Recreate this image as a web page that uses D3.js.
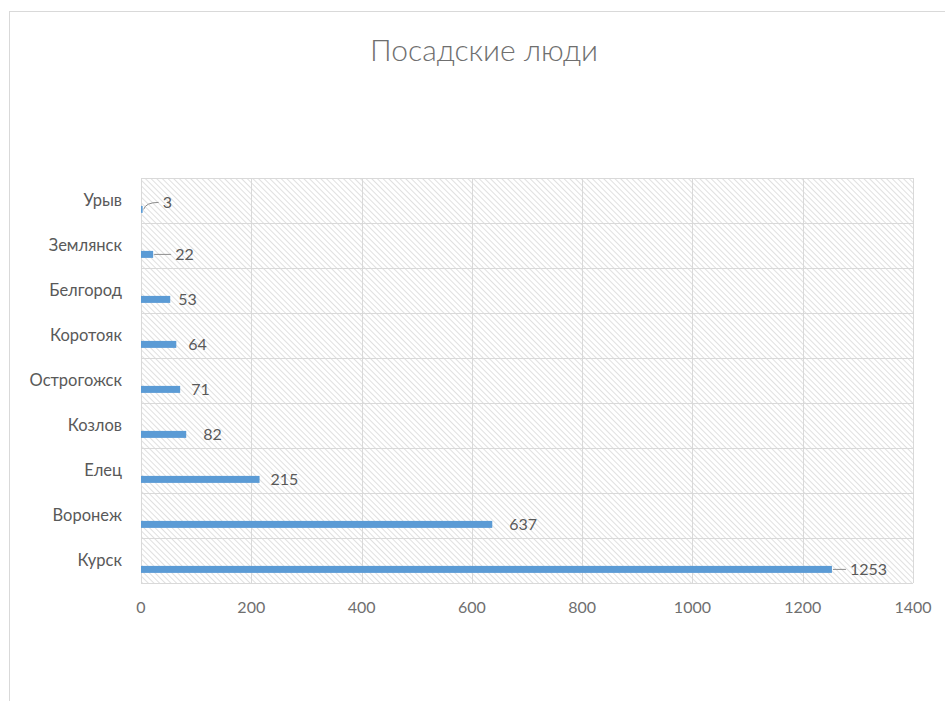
<!DOCTYPE html>
<html>
<head>
<meta charset="utf-8">
<script src="https://cdn.jsdelivr.net/npm/d3@7"></script>
<style>
  body { margin: 0; background: #fff; }
  svg { display: block; font-family: Lato, "Open Sans", sans-serif; }
</style>
</head>
<body>
<svg id="chart" width="945" height="701"></svg>
<script>
// Data
const towns = ['Урыв', 'Землянск', 'Белгород', 'Коротояк', 'Острогожск', 'Козлов', 'Елец', 'Воронеж', 'Курск'];
const people = [3, 22, 53, 64, 71, 82, 215, 637, 1253];
const xTicks = [0, 200, 400, 600, 800, 1000, 1200, 1400];
// label nudges (px right of the bar end, px up), the way they were dragged in the original
const labelDx = [20, 22, 8, 12, 11, 17, 11, 17, 18];
const labelDy = [7, 0, 0, 0, 0, 0, 0, 0, 0];
const title = 'Посадские люди';

const svg = d3.select('#chart');
const margin = { left: 141, right: 32, top: 178, bottom: 118 };
const width = 945, height = 701;
const textColor = '#595959';

// outer chart frame (cropped at right/bottom)
svg.append('rect')
    .attr('x', 9.5).attr('y', 11.5)
    .attr('width', 1000).attr('height', 1000)
    .attr('fill', 'none')
    .attr('stroke', '#d9d9d9');

// hatch pattern for plot background
const defs = svg.append('defs');
const pat = defs.append('pattern')
    .attr('id', 'hatch')
    .attr('patternUnits', 'userSpaceOnUse')
    .attr('width', 4).attr('height', 4)
    .attr('patternTransform', 'rotate(-45)');
pat.append('line')
    .attr('x1', 0).attr('y1', 0).attr('x2', 0).attr('y2', 4)
    .attr('stroke', '#cfcfcf').attr('stroke-width', 1.3);

const x = d3.scaleLinear()
    .domain([0, 1400])
    .range([margin.left, width - margin.right]);

const y = d3.scaleBand()
    .domain(towns)
    .range([margin.top, height - margin.bottom])
    .padding(0);

svg.append('rect')
    .attr('x', x(0)).attr('y', margin.top)
    .attr('width', x(1400) - x(0))
    .attr('height', height - margin.bottom - margin.top)
    .attr('fill', 'url(#hatch)');

// vertical gridlines
svg.append('g')
    .selectAll('line')
    .data(xTicks)
    .join('line')
    .attr('x1', d => Math.round(x(d)) + 0.5).attr('x2', d => Math.round(x(d)) + 0.5)
    .attr('y1', margin.top).attr('y2', height - margin.bottom)
    .attr('stroke', '#d9d9d9');

// horizontal band separators
const bandEdges = towns.map(t => y(t)).concat([height - margin.bottom]);
svg.append('g')
    .selectAll('line')
    .data(bandEdges)
    .join('line')
    .attr('x1', x(0)).attr('x2', x(1400))
    .attr('y1', d => Math.round(d) + 0.5).attr('y2', d => Math.round(d) + 0.5)
    .attr('stroke', '#d9d9d9');

// x axis tick labels
svg.append('g')
    .selectAll('text')
    .data(xTicks)
    .join('text')
    .attr('x', d => x(d))
    .attr('y', height - margin.bottom + 30)
    .attr('text-anchor', 'middle')
    .attr('fill', '#6f6f6f')
    .attr('font-size', 16)
    .text(d => d);

// category labels
svg.append('g')
    .selectAll('text')
    .data(towns)
    .join('text')
    .attr('x', 122)
    .attr('y', d => y(d) + y.bandwidth() / 2 + 5)
    .attr('text-anchor', 'end')
    .attr('fill', textColor)
    .attr('font-size', 16.5)
    .text(d => d);

// bars sit in the lower part of each band
const barTop = 0.62, barH = 7;
svg.append('g')
    .selectAll('rect')
    .data(towns)
    .join('rect')
    .attr('x', x(0))
    .attr('y', d => y(d) + y.bandwidth() * barTop)
    .attr('width', (d, i) => Math.max(1, x(people[i]) - x(0)))
    .attr('height', barH)
    .attr('fill', '#5b9bd5');

// data labels with leader lines where they were pulled away
const lbl = svg.append('g');
towns.forEach((t, i) => {
    const bx = x(people[i]);
    const by = y(t) + y.bandwidth() * barTop + barH / 2;
    const lx = bx + labelDx[i];
    const ly = by - labelDy[i];
    if (labelDx[i] >= 18) {
        lbl.append('path')
            .attr('d', labelDy[i] > 0
                ? `M${bx + 1},${by} Q${bx + 3},${ly} ${lx - 4},${ly}`
                : `M${bx + 1},${by} L${lx - 4},${ly}`)
            .attr('fill', 'none')
            .attr('stroke', '#8c8c8c')
            .attr('stroke-width', 1);
    }
    lbl.append('text')
        .attr('x', lx)
        .attr('y', ly + 5.5)
        .attr('fill', textColor)
        .attr('font-size', 16)
        .text(people[i]);
});

// title
svg.append('text')
    .attr('x', 484)
    .attr('y', 61)
    .attr('text-anchor', 'middle')
    .attr('fill', '#6f6f6f')
    .attr('font-size', 30)
    .attr('font-weight', 300)
    .text(title);
</script>
</body>
</html>
